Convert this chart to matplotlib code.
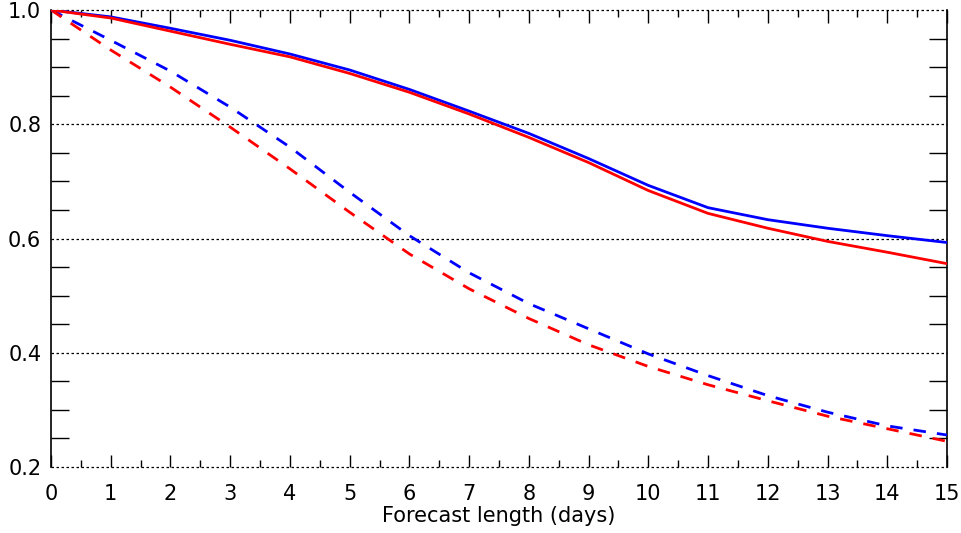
import numpy as np
import matplotlib.pyplot as plt
from matplotlib.ticker import MultipleLocator

# forecast days
days = np.arange(0, 16)

# solid curves
blue_solid = [1.000, 0.988, 0.968, 0.947, 0.923, 0.895, 0.861, 0.823,
              0.784, 0.740, 0.693, 0.654, 0.633, 0.618, 0.605, 0.593]
red_solid = [1.000, 0.986, 0.963, 0.940, 0.918, 0.889, 0.856, 0.818,
             0.777, 0.733, 0.684, 0.644, 0.618, 0.595, 0.576, 0.556]

# dashed curves
blue_dash = [1.000, 0.947, 0.893, 0.830, 0.760, 0.681, 0.605, 0.540,
             0.486, 0.442, 0.398, 0.360, 0.325, 0.296, 0.272, 0.256]
red_dash = [1.000, 0.930, 0.865, 0.795, 0.722, 0.646, 0.573, 0.512,
            0.460, 0.414, 0.376, 0.344, 0.316, 0.289, 0.267, 0.245]

yticks = [0.2, 0.4, 0.6, 0.8, 1.0]

fig = plt.figure(figsize=(9.61, 5.33), dpi=100)
ax = fig.add_axes([0.0531, 0.1238, 0.9323, 0.8574])

# dotted horizontal lines at the major y values
for yv in yticks:
    ax.axhline(yv, color='black', lw=0.9, ls=(0, (2, 2)), zorder=1,
               clip_on=False)

ax.plot(days, blue_dash, color='#0000ff', lw=2, ls=(0, (4.5, 4)), zorder=3)
ax.plot(days, red_dash, color='#ff0000', lw=2, ls=(0, (4.5, 4)), zorder=3)
ax.plot(days, blue_solid, color='#0000ff', lw=2, zorder=3)
ax.plot(days, red_solid, color='#ff0000', lw=2, zorder=3)

ax.set_xlim(0, 15)
ax.set_ylim(0.2, 1.0)

ax.xaxis.set_major_locator(MultipleLocator(1))
ax.xaxis.set_minor_locator(MultipleLocator(0.5))
ax.set_yticks(yticks)
ax.set_yticklabels([f'{v:.1f}' for v in yticks])
ax.yaxis.set_minor_locator(MultipleLocator(0.05))

ax.tick_params(axis='x', which='major', direction='in', length=9, width=1,
               top=True, bottom=True, labelsize=15, pad=12)
ax.tick_params(axis='x', which='minor', direction='in', length=5, width=1,
               top=True, bottom=True)
ax.tick_params(axis='y', which='major', direction='in', length=0,
               left=True, right=True, labelsize=15, pad=7)
ax.tick_params(axis='y', which='minor', direction='in', length=13, width=1,
               left=True, right=True)

ax.spines['top'].set_visible(False)
ax.spines['bottom'].set_visible(False)
ax.spines['left'].set_linewidth(1.2)
ax.spines['right'].set_linewidth(1.2)

ax.set_xlabel('Forecast length (days)', fontsize=15, labelpad=2)

fig.savefig('out.png', dpi=100)
